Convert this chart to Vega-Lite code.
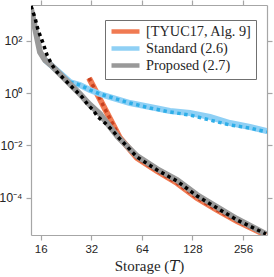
{
  "$schema": "https://vega.github.io/schema/vega-lite/v6.json",
  "width": 236,
  "height": 230,
  "autosize": {"type": "none"},
  "padding": {"left": 31, "top": 5, "right": 7, "bottom": 42},
  "background": "white",
  "config": {
    "view": {"stroke": null},
    "axis": {
      "domainColor": "#a6a6a6", "tickColor": "#a6a6a6", "domainWidth": 1.2, "tickWidth": 1.2,
      "labelColor": "#262626", "labelFont": "Liberation Sans, Arial, sans-serif", "labelFontSize": 11.5,
      "tickSize": 5, "labelPadding": 3, "grid": false,
      "titleFont": "Liberation Serif, DejaVu Serif, serif", "titleFontSize": 15, "titleFontWeight": "normal", "titleColor": "#262626", "titlePadding": 4
    },
    "legend": {
      "orient": "none", "legendX": 74, "legendY": 15, "direction": "vertical",
      "symbolType": "M-1,0H4.6", "symbolSize": 100, "symbolStrokeWidth": 4.5,
      "labelFont": "Liberation Serif, DejaVu Serif, serif", "labelFontSize": 14.3, "labelColor": "#262626",
      "strokeColor": "#707070", "fillColor": "#ffffff", "padding": 4, "rowPadding": -6, "labelOffset": 22
    }
  },
  "data": {"values": [
    {"s": "O", "k": "line", "T": 31.02, "v": 3.82},
    {"s": "O", "k": "line", "T": 47.43, "v": 0.01927},
    {"s": "O", "k": "line", "T": 59.88, "v": 0.003304},
    {"s": "O", "k": "line", "T": 78.76, "v": 0.00105},
    {"s": "O", "k": "line", "T": 103.6, "v": 0.000365},
    {"s": "O", "k": "line", "T": 136.3, "v": 0.0000972},
    {"s": "O", "k": "line", "T": 179.2, "v": 0.0000338},
    {"s": "O", "k": "line", "T": 235.7, "v": 0.0000128},
    {"s": "O", "k": "line", "T": 350.8, "v": 0.00000372},
    {"s": "O", "k": "dot", "T": 31.02, "v": 3.82},
    {"s": "O", "k": "dot", "T": 47.43, "v": 0.01927},
    {"s": "O", "k": "dot", "T": 59.88, "v": 0.003304},
    {"s": "O", "k": "dot", "T": 78.76, "v": 0.00105},
    {"s": "O", "k": "dot", "T": 103.6, "v": 0.000365},
    {"s": "O", "k": "dot", "T": 136.3, "v": 0.0000972},
    {"s": "O", "k": "dot", "T": 179.2, "v": 0.0000338},
    {"s": "O", "k": "dot", "T": 235.7, "v": 0.0000128},
    {"s": "O", "k": "dot", "T": 350.8, "v": 0.00000372},
    {"s": "S", "k": "line", "T": 16.97, "v": 18.67},
    {"s": "S", "k": "line", "T": 20.84, "v": 5.93},
    {"s": "S", "k": "line", "T": 23.9, "v": 2.68},
    {"s": "S", "k": "line", "T": 27.42, "v": 2.06},
    {"s": "S", "k": "line", "T": 31.44, "v": 1.326},
    {"s": "S", "k": "line", "T": 36.06, "v": 0.932},
    {"s": "S", "k": "line", "T": 41.36, "v": 0.715},
    {"s": "S", "k": "line", "T": 47.43, "v": 0.549},
    {"s": "S", "k": "line", "T": 54.4, "v": 0.4215},
    {"s": "S", "k": "line", "T": 71.55, "v": 0.2962},
    {"s": "S", "k": "line", "T": 94.11, "v": 0.2083},
    {"s": "S", "k": "line", "T": 123.8, "v": 0.1746},
    {"s": "S", "k": "line", "T": 162.8, "v": 0.1227},
    {"s": "S", "k": "line", "T": 214.2, "v": 0.0723},
    {"s": "S", "k": "line", "T": 281.7, "v": 0.0508},
    {"s": "S", "k": "line", "T": 355.6, "v": 0.0357},
    {"s": "S", "k": "dot", "T": 23.9, "v": 2.68},
    {"s": "S", "k": "dot", "T": 27.42, "v": 2.06},
    {"s": "S", "k": "dot", "T": 31.44, "v": 1.326},
    {"s": "S", "k": "dot", "T": 36.06, "v": 0.932},
    {"s": "S", "k": "dot", "T": 41.36, "v": 0.715},
    {"s": "S", "k": "dot", "T": 47.43, "v": 0.549},
    {"s": "S", "k": "dot", "T": 54.4, "v": 0.4215},
    {"s": "S", "k": "dot", "T": 71.55, "v": 0.2713},
    {"s": "S", "k": "dot", "T": 94.11, "v": 0.1906},
    {"s": "S", "k": "dot", "T": 123.8, "v": 0.1463},
    {"s": "S", "k": "dot", "T": 162.8, "v": 0.0942},
    {"s": "S", "k": "dot", "T": 214.2, "v": 0.0606},
    {"s": "S", "k": "dot", "T": 281.7, "v": 0.0465},
    {"s": "S", "k": "dot", "T": 355.6, "v": 0.0327},
    {"s": "P", "k": "line", "T": 14.01, "v": 1673},
    {"s": "P", "k": "line", "T": 15.85, "v": 37.8},
    {"s": "P", "k": "line", "T": 16.97, "v": 18.67},
    {"s": "P", "k": "line", "T": 18.68, "v": 11.0},
    {"s": "P", "k": "line", "T": 20.28, "v": 6.48},
    {"s": "P", "k": "line", "T": 22.02, "v": 3.82},
    {"s": "P", "k": "line", "T": 23.9, "v": 2.25},
    {"s": "P", "k": "line", "T": 27.42, "v": 0.932},
    {"s": "P", "k": "line", "T": 30.6, "v": 0.4215},
    {"s": "P", "k": "line", "T": 36.06, "v": 0.1598},
    {"s": "P", "k": "line", "T": 46.15, "v": 0.02104},
    {"s": "P", "k": "line", "T": 59.88, "v": 0.003942},
    {"s": "P", "k": "line", "T": 78.76, "v": 0.001253},
    {"s": "P", "k": "line", "T": 103.6, "v": 0.000475},
    {"s": "P", "k": "line", "T": 136.3, "v": 0.0001266},
    {"s": "P", "k": "line", "T": 179.2, "v": 0.000044},
    {"s": "P", "k": "line", "T": 235.7, "v": 0.0000153},
    {"s": "P", "k": "line", "T": 350.8, "v": 0.00000407},
    {"s": "P", "k": "dot", "T": 14.01, "v": 2180},
    {"s": "P", "k": "dot", "T": 14.8, "v": 757},
    {"s": "P", "k": "dot", "T": 15.42, "v": 262.8},
    {"s": "P", "k": "dot", "T": 16.51, "v": 83.5},
    {"s": "P", "k": "dot", "T": 17.44, "v": 29.0},
    {"s": "P", "k": "dot", "T": 18.68, "v": 12.01},
    {"s": "P", "k": "dot", "T": 20.0, "v": 6.48},
    {"s": "P", "k": "dot", "T": 21.72, "v": 3.82},
    {"s": "P", "k": "dot", "T": 23.9, "v": 2.06},
    {"s": "P", "k": "dot", "T": 26.32, "v": 1.111},
    {"s": "P", "k": "dot", "T": 28.57, "v": 0.655},
    {"s": "P", "k": "dot", "T": 30.6, "v": 0.353},
    {"s": "P", "k": "dot", "T": 32.76, "v": 0.2274},
    {"s": "P", "k": "dot", "T": 35.09, "v": 0.1227},
    {"s": "P", "k": "dot", "T": 38.62, "v": 0.0723},
    {"s": "P", "k": "dot", "T": 42.51, "v": 0.039},
    {"s": "P", "k": "dot", "T": 46.15, "v": 0.02104},
    {"s": "P", "k": "dot", "T": 59.88, "v": 0.003609},
    {"s": "P", "k": "dot", "T": 78.76, "v": 0.001147},
    {"s": "P", "k": "dot", "T": 103.6, "v": 0.000435},
    {"s": "P", "k": "dot", "T": 136.3, "v": 0.0001159},
    {"s": "P", "k": "dot", "T": 179.2, "v": 0.0000403},
    {"s": "P", "k": "dot", "T": 235.7, "v": 0.000014},
    {"s": "P", "k": "dot", "T": 350.8, "v": 0.00000407}
  ]},
  "layer": [
    {
      "encoding": {
        "x": {"field": "T", "type": "quantitative",
          "scale": {"type": "log", "base": 2, "domain": [14, 355.7], "nice": false},
          "axis": {"values": [16, 32, 64, 128, 256], "title": "Storage (𝑇)", "orient": "bottom"}},
        "y": {"field": "v", "type": "quantitative",
          "scale": {"type": "log", "domain": [0.00000373, 2388], "nice": false},
          "axis": {"values": [0.0001, 0.01, 1, 100], "title": null, "orient": "left", "labelPadding": 4, "labelFontSize": 12.5,
            "labelExpr": "datum.value > 10 ? '10²' : datum.value > 0.1 ? '10⁰' : datum.value > 0.001 ? '10⁻²' : '10⁻⁴'"}}
      },
      "layer": [
        {"transform": [{"filter": "datum.s == 'O' && datum.k == 'line'"}],
         "mark": {"type": "line", "strokeWidth": 6, "clip": true},
         "encoding": {"color": {"datum": "[TYUC17, Alg. 9]",
           "scale": {"domain": ["[TYUC17, Alg. 9]", "Standard (2.6)", "Proposed (2.7)"], "range": ["#f07a52", "#8fd0f5", "#999999"]},
           "legend": {"title": null}}}},
        {"transform": [{"filter": "datum.s == 'O' && datum.k == 'dot'"}],
         "mark": {"type": "line", "strokeWidth": 3.5, "strokeDash": [3.5, 3.5], "color": "#c8401e", "clip": true},
         "encoding": {}},
        {"transform": [{"filter": "datum.s == 'S' && datum.k == 'line'"}],
         "mark": {"type": "line", "strokeWidth": 6, "clip": true},
         "encoding": {"color": {"datum": "Standard (2.6)"}}},
        {"transform": [{"filter": "datum.s == 'S' && datum.k == 'dot'"}],
         "mark": {"type": "line", "strokeWidth": 3.5, "strokeDash": [3.5, 3.5], "color": "#2eaee8", "clip": true},
         "encoding": {}},
        {"transform": [{"filter": "datum.s == 'P' && datum.k == 'line'"}],
         "mark": {"type": "line", "strokeWidth": 6, "clip": true},
         "encoding": {"color": {"datum": "Proposed (2.7)"}}}
      ]
    },
    {
      "transform": [{"filter": "datum.s == 'P' && datum.k == 'dot'"}],
      "mark": {"type": "line", "strokeWidth": 3.5, "strokeDash": [3.5, 3.5], "color": "#000000", "clip": true},
      "encoding": {
        "x": {"field": "T", "type": "quantitative",
          "axis": {"values": [16, 32, 64, 128, 256], "title": null, "labels": false, "orient": "top"}},
        "y": {"field": "v", "type": "quantitative",
          "axis": {"values": [0.0001, 0.01, 1, 100], "title": null, "labels": false, "orient": "right"}}
      }
    }
  ],
  "resolve": {"axis": {"x": "independent", "y": "independent"}}
}
